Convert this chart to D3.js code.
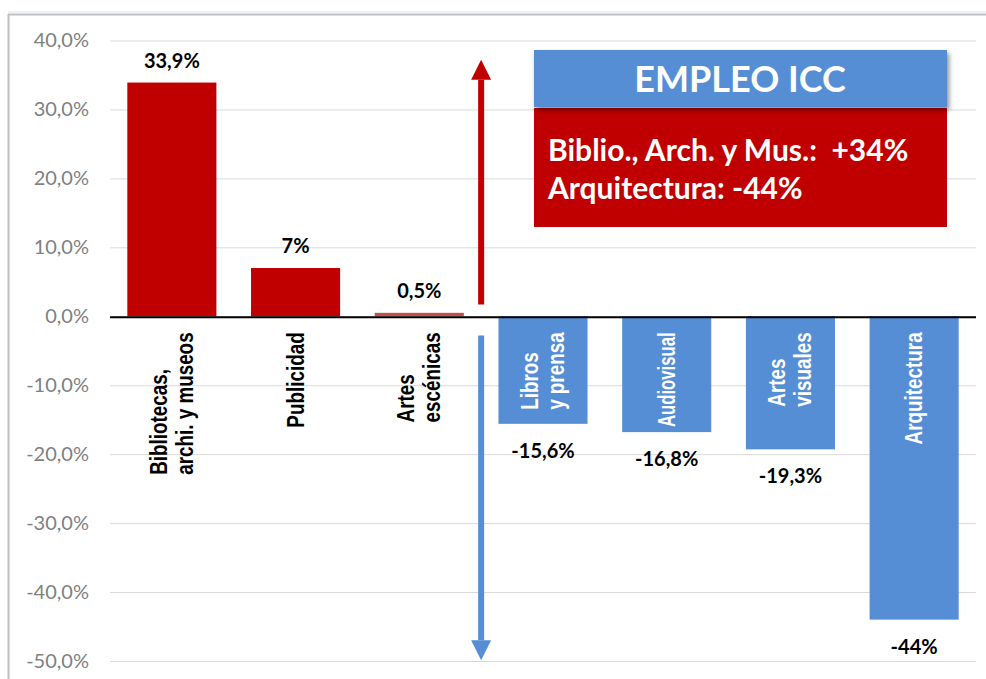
<!DOCTYPE html>
<html>
<head>
<meta charset="utf-8">
<script src="https://cdn.jsdelivr.net/npm/d3@7"></script>
<style>
  body { margin: 0; background: #fff; }
  svg { display: block; }
</style>
</head>
<body>
<svg width="986" height="679"></svg>
<script>
const categories = ["Bibliotecas", "Publicidad", "Artes escénicas", "Libros y prensa", "Audiovisual", "Artes visuales", "Arquitectura"];
const labelLines = [["Bibliotecas,", "archi. y  museos"], ["Publicidad"], ["Artes", "escénicas"], ["Libros", "y prensa"], ["Audiovisual"], ["Artes", "visuales"], ["Arquitectura"]];
const values = [33.9, 7, 0.5, -15.6, -16.8, -19.3, -44];
const valueLabels = ["33,9%", "7%", "0,5%", "-15,6%", "-16,8%", "-19,3%", "-44%"];
const barColors = ["#c00000", "#c00000", "#c0504d", "#558ed5", "#558ed5", "#558ed5", "#558ed5"];
const yTicks = [40, 30, 20, 10, 0, -10, -20, -30, -40, -50];
const yTickLabels = ["40,0%", "30,0%", "20,0%", "10,0%", "0,0%", "-10,0%", "-20,0%", "-30,0%", "-40,0%", "-50,0%"];
const arrows = [{ from: 1.7, to: 37.2, color: "#c00000" }, { from: -2.8, to: -49.9, color: "#558ed5" }];
const boxTitle = "EMPLEO ICC";
const boxLines = ["Biblio., Arch. y Mus.:  +34%", "Arquitectura: -44%"];

const svg = d3.select("svg");
const margin = { left: 110, right: 10 };
const W = 986;

const x = d3.scaleBand()
  .domain(categories)
  .range([margin.left, W - margin.right])
  .paddingInner(0.28)
  .paddingOuter(0.14);

const y = d3.scaleLinear()
  .domain([-50, 40])
  .range([661, 40.5]);

// frame
svg.append("line").attr("x1", 8).attr("x2", W).attr("y1", 12).attr("y2", 12)
  .attr("stroke", "#dce6f1").attr("stroke-width", 1);
svg.append("line").attr("x1", 8).attr("x2", W).attr("y1", 14.5).attr("y2", 14.5)
  .attr("stroke", "#bfbfbf").attr("stroke-width", 2);
svg.append("line").attr("x1", 8.5).attr("x2", 8.5).attr("y1", 14).attr("y2", 679)
  .attr("stroke", "#bfbfbf").attr("stroke-width", 2);

// gridlines + tick labels
const yAxis = d3.axisLeft(y)
  .tickValues(yTicks)
  .tickSize(-(W - margin.right - margin.left))
  .tickFormat((d, i) => yTickLabels[i]);

const ga = svg.append("g")
  .attr("transform", "translate(" + margin.left + ",0)")
  .call(yAxis);
ga.select(".domain").remove();
ga.selectAll("line").attr("stroke", "#d9d9d9").attr("stroke-width", 1);
ga.selectAll("text")
  .attr("x", -21)
  .attr("fill", "#7f7f7f")
  .style("font-family", "Lato, 'Open Sans', sans-serif")
  .style("font-size", "20px");

// bars
svg.append("g").selectAll("rect")
  .data(values)
  .join("rect")
  .attr("x", (d, i) => x(categories[i]))
  .attr("width", x.bandwidth())
  .attr("y", d => y(Math.max(0, d)))
  .attr("height", d => Math.abs(y(d) - y(0)))
  .attr("fill", (d, i) => barColors[i]);

// zero line
svg.append("line")
  .attr("x1", margin.left).attr("x2", W - margin.right)
  .attr("y1", y(0) + 1).attr("y2", y(0) + 1)
  .attr("stroke", "#000").attr("stroke-width", 2);

// value labels
svg.append("g").selectAll("text")
  .data(values)
  .join("text")
  .attr("x", (d, i) => x(categories[i]) + x.bandwidth() / 2)
  .attr("y", d => d >= 0 ? y(d) - 22 : y(d) + 27)
  .attr("dy", "0.35em")
  .attr("text-anchor", "middle")
  .style("font-family", "Lato, 'Open Sans', sans-serif")
  .style("font-weight", "bold")
  .style("font-size", "20px")
  .attr("fill", "#000")
  .text((d, i) => valueLabels[i]);

// category labels (rotated, narrowed like Arial Narrow)
const lineGap = 26;
const squeeze = 0.82;
const labelTop = y(0) + 16;
categories.forEach((c, i) => {
  const cx = x(c) + x.bandwidth() / 2;
  const g = svg.append("g");
  const lines = labelLines[i];
  const texts = lines.map(t => g.append("text")
    .attr("text-anchor", "start")
    .attr("dy", "0.35em")
    .style("font-family", "'Liberation Sans', Arial, sans-serif")
    .style("font-weight", "bold")
    .style("font-size", "23px")
    .attr("fill", values[i] >= 0 ? "#000" : "#fff")
    .text(t));
  const rawLen = d3.max(texts, t => t.node().getComputedTextLength());
  let sq = squeeze;
  // labels sitting inside a negative bar must stay inside it
  if (values[i] < 0) {
    const room = y(values[i]) - 5 - labelTop;
    sq = Math.min(sq, room / rawLen);
  }
  const maxLen = rawLen * sq;
  texts.forEach((t, j) => {
    const lx = cx + (j - (lines.length - 1) / 2) * lineGap;
    const ly = labelTop + maxLen;
    t.attr("transform", "translate(" + lx + "," + ly + ") rotate(-90) scale(" + sq + ",1)");
  });
});

// arrows at the boundary between positive and negative groups
const ax = x(categories[3]) - x.step() * x.paddingInner() / 2;
arrows.forEach(a => {
  const dir = a.to > a.from ? -1 : 1;
  const tip = y(a.to);
  const base = tip - dir * 20;
  svg.append("line")
    .attr("x1", ax).attr("x2", ax)
    .attr("y1", y(a.from)).attr("y2", base)
    .attr("stroke", a.color).attr("stroke-width", 6);
  svg.append("path")
    .attr("d", "M" + (ax - 10) + "," + base + "L" + (ax + 10) + "," + base + "L" + ax + "," + tip + "Z")
    .attr("fill", a.color);
});

// annotation box
const defs = svg.append("defs");
const f = defs.append("filter").attr("id", "shadow").attr("x", "-10%").attr("y", "-10%").attr("width", "120%").attr("height", "140%");
f.append("feDropShadow").attr("dx", 2).attr("dy", 3).attr("stdDeviation", 2.5).attr("flood-color", "#000").attr("flood-opacity", 0.45);

svg.append("rect")
  .attr("x", 534).attr("y", 108).attr("width", 413).attr("height", 119)
  .attr("fill", "#c00000");
svg.append("rect")
  .attr("x", 534).attr("y", 50).attr("width", 413).attr("height", 57)
  .attr("fill", "#558ed5")
  .attr("filter", "url(#shadow)");
svg.append("text")
  .attr("x", 740).attr("y", 79).attr("dy", "0.35em")
  .attr("text-anchor", "middle")
  .attr("fill", "#fff")
  .style("font-family", "Lato, 'Open Sans', sans-serif")
  .style("font-weight", "bold")
  .style("font-size", "36px")
  .text(boxTitle);
svg.append("g").selectAll("text")
  .data(boxLines)
  .join("text")
  .attr("x", 548)
  .attr("y", (d, i) => 161 + i * 38)
  .attr("fill", "#fff")
  .style("font-family", "Lato, 'Open Sans', sans-serif")
  .style("font-weight", "bold")
  .style("font-size", "30px")
  .style("white-space", "pre")
  .text(d => d);
</script>
</body>
</html>
